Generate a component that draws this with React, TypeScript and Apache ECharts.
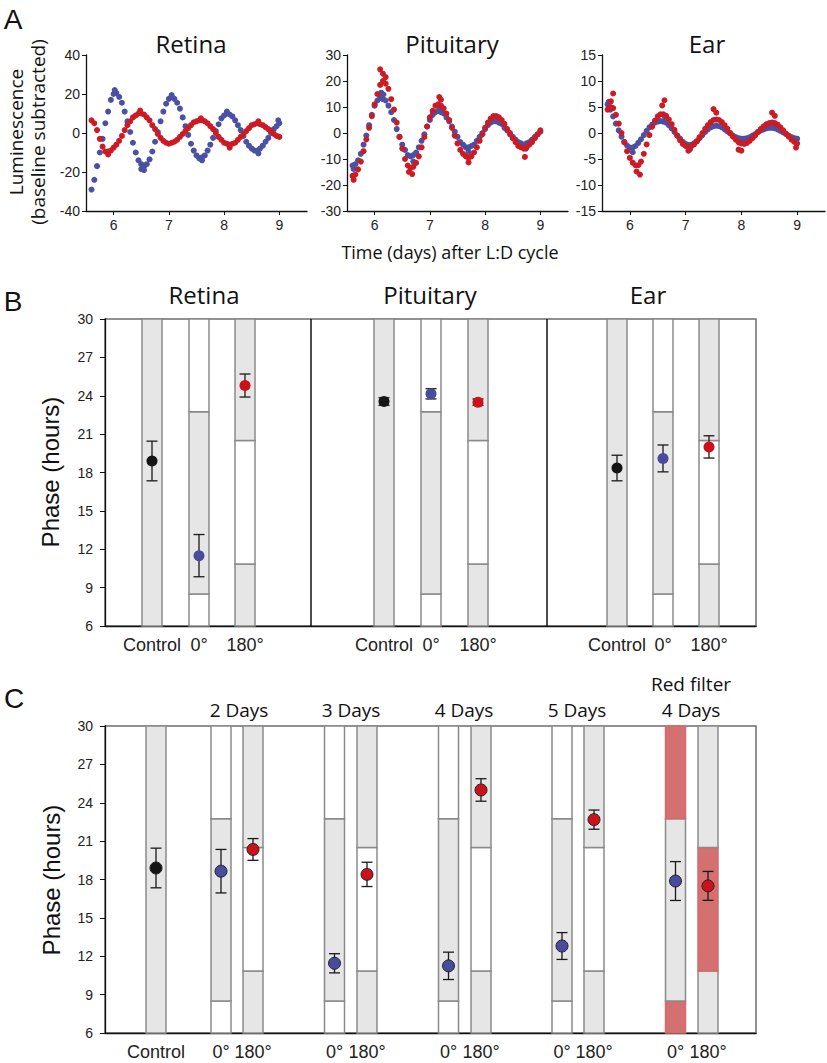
import React, { useEffect, useRef } from "react";
import * as echarts from "echarts";

// ---------- Panel A data ----------
const DAYS = [
  5.6, 5.65, 5.7, 5.75, 5.8, 5.85, 5.9, 5.95, 6.0, 6.05,
  6.1, 6.15, 6.2, 6.25, 6.3, 6.35, 6.4, 6.45, 6.5, 6.55,
  6.6, 6.65, 6.7, 6.75, 6.8, 6.85, 6.9, 6.95, 7.0, 7.05,
  7.1, 7.15, 7.2, 7.25, 7.3, 7.35, 7.4, 7.45, 7.5, 7.55,
  7.6, 7.65, 7.7, 7.75, 7.8, 7.85, 7.9, 7.95, 8.0, 8.05,
  8.1, 8.15, 8.2, 8.25, 8.3, 8.35, 8.4, 8.45, 8.5, 8.55,
  8.6, 8.65, 8.7, 8.75, 8.8, 8.85, 8.9, 8.95, 9.0,
];

const RETINA_BLUE = [
  -29, -24, -17, -10, -3, 5, 11, 17, 20, 20.5,
  18.5, 15.5, 11, 6, 0.5, -5, -10, -14, -16, -17,
  -16, -13.5, -9.5, -4.5, 0.5, 6, 11, 15, 17.5, 18.5,
  17.5, 15.5, 12.5, 8, 3.5, -1, -5.5, -9, -11.5, -13,
  -12.5, -11.5, -9, -6, -2.5, 1, 4.5, 7.5, 9, 10,
  9.5, 8.5, 6.5, 4, 1.5, -1.5, -4.5, -6.5, -8, -9,
  -9, -8, -6.5, -4.5, -2.5, 0, 2, 3.5, 5,
];
const RETINA_RED = [
  6.5, 5, 1.5, -3, -7, -9.5, -9.5, -9, -7.5, -6,
  -4, -1.5, 1.5, 4, 6, 8, 9, 10, 10, 9.5,
  8, 6.5, 4, 2, -0.5, -2.5, -4, -5, -5.5, -5,
  -4.5, -3.5, -2, -0.5, 1, 2.5, 4, 5.5, 6, 6.5,
  6.5, 6, 5, 3.5, 2, 0, -2, -3.5, -5, -5.5,
  -6, -5.5, -5, -3.5, -2, -0.5, 1, 2.5, 4, 4.5,
  5, 4.5, 4, 3, 2, 1, -0.5, -1.5, -2,
];
const PIT_BLUE = [
  -12.5, -12, -10.5, -8, -4.5, -1, 3, 7, 10.5, 12.5,
  13.5, 13, 12.5, 10.5, 8, 5, 1.5, -1.5, -4.5, -6.5,
  -8.5, -9, -8.5, -7.5, -5.5, -3, -0.5, 2.5, 5, 7,
  8, 8.5, 8, 7.5, 6, 4.5, 2.5, 0.5, -1.5, -3.5,
  -4.5, -5.5, -5.5, -5, -4.5, -3, -1.5, 0, 1.5, 3,
  4, 4.5, 4.5, 4, 3.5, 2, 1, -0.5, -1.5, -2.5,
  -3.5, -4, -4.5, -4, -3.5, -2.5, -1.5, -0.5, 0.5,
];
const PIT_RED = [
  -16.5, -16, -14, -11, -7, -2.5, 2, 6.5, 11, 15,
  18.5, 20, 19, 17, 13, 9, 4, -1.5, -6, -10,
  -12.5, -13.5, -13, -11.5, -9, -5.5, -1.5, 2.5, 6, 8.5,
  10.5, 11, 10.5, 9.5, 7.5, 5, 2, -1, -4, -6.5,
  -8, -9, -9.5, -9, -7.5, -5.5, -3, -0.5, 2, 4,
  5.5, 6.5, 6.5, 6, 5, 3.5, 1.5, 0, -2, -3.5,
  -5, -5.5, -6, -5.5, -4.5, -3.5, -2, -0.5, 1,
];
const EAR_BLUE = [
  5.5, 4.5, 3.2, 1.8, 0.5, -0.7, -1.7, -2.4, -2.8, -2.8,
  -2.5, -1.9, -1.2, -0.4, 0.4, 1.1, 1.6, 2, 2.2, 2.3,
  2.2, 2, 1.5, 0.9, 0.2, -0.5, -1.1, -1.7, -2.1, -2.3,
  -2.3, -2, -1.6, -1, -0.4, 0.2, 0.7, 1.1, 1.3, 1.4,
  1.3, 1.1, 0.7, 0.3, -0.1, -0.5, -0.8, -1, -1.1, -1.1,
  -1, -0.8, -0.5, -0.2, 0.2, 0.5, 0.7, 0.9, 1, 1,
  0.9, 0.7, 0.4, 0.1, -0.2, -0.5, -0.8, -1, -1.1,
];
const EAR_RED = [
  4.5, 5, 4.8, 3.5, 1.8, 0, -1.8, -3.5, -4.8, -5.7,
  -6.2, -6.2, -5.5, -4, -2.2, -0.4, 1.2, 2.4, 3.2, 3.6,
  3.6, 3.3, 2.6, 1.7, 0.6, -0.5, -1.4, -2.1, -2.5, -2.7,
  -2.6, -2.2, -1.6, -0.8, 0, 0.8, 1.5, 2.1, 2.5, 2.6,
  2.5, 2.1, 1.5, 0.8, 0, -0.7, -1.3, -1.8, -2, -2.1,
  -1.9, -1.5, -1, -0.4, 0.2, 0.8, 1.3, 1.7, 1.9, 2,
  1.9, 1.6, 1.1, 0.5, -0.1, -0.7, -1.3, -1.7, -2,
];
// scattered points off the main band
const RETINA_BLUE_EXTRA = [[6.02, 22], [6.55, -19], [6.5, -18.5], [7.05, 19.5], [7.6, -14], [8.05, 11], [8.62, -10.5], [8.98, 6.5]];
const RETINA_RED_EXTRA = [[6.48, 11.5], [5.9, -11], [7.58, 7.5], [8.1, -7.5], [8.62, 6]];
const PIT_BLUE_EXTRA = [[6.12, 15.5], [6.16, 14.8], [7.18, 9.8], [5.62, -13.8], [6.7, -11], [7.7, -7.2], [8.74, -6]];
const PIT_RED_EXTRA = [[6.1, 24.5], [6.15, 22.8], [6.2, 21.5], [7.17, 13.8], [7.2, 12.8], [6.68, -15.8], [6.62, -15], [7.7, -11.3], [8.72, -9.2], [5.62, -18]];
const EAR_BLUE_EXTRA = [[5.62, 6], [6.05, -3.7], [6.63, 3.1], [7.08, -3.1], [8.6, 1.6]];
const EAR_RED_EXTRA = [[5.7, 7.6], [5.66, 6.1], [6.62, 6.3], [6.58, 5.3], [6.18, -8], [6.12, -7.4], [7.5, 4.6], [7.55, 3.9], [8.55, 3.9], [8.6, 3.3], [8.0, -3.4], [7.95, -3.2], [8.98, -2.8], [7.05, -3.4]];

const A_TITLES = ["Retina", "Pituitary", "Ear"];
const A_YMIN = [-40, -30, -15];
const A_YMAX = [40, 30, 15];
const A_YSTEP = [20, 10, 5];
const A_XTICKS = [6, 7, 8, 9];

// ---------- Panel B data ----------
const B_TISSUES = ["Retina", "Pituitary", "Ear"];
const B_CONDITIONS = ["Control", "0°", "180°", "Control", "0°", "180°", "Control", "0°", "180°"];
const B_PHASE = [18.9, 11.5, 24.8, 23.55, 24.15, 23.5, 18.35, 19.1, 20.0];
const B_ERR = [1.55, 1.65, 0.9, 0.3, 0.4, 0.25, 1.0, 1.05, 0.87];

// ---------- Panel C data ----------
const C_GROUPS = ["2 Days", "3 Days", "4 Days", "5 Days", "Red filter\n4 Days"];
const C_CONDITIONS = ["Control", "0°", "180°", "0°", "180°", "0°", "180°", "0°", "180°", "0°", "180°"];
const C_PHASE = [18.9, 18.65, 20.35, 11.45, 18.4, 11.25, 25.0, 12.8, 22.68, 17.88, 17.5];
const C_ERR = [1.55, 1.7, 0.85, 0.75, 0.95, 1.07, 0.88, 1.05, 0.75, 1.52, 1.13];

// light schedules: [from, to, kind]
const SCHED_CONTROL = [[6, 30, 0]];
const SCHED_0 = [[6, 8.5, 1], [8.5, 22.75, 0], [22.75, 30, 1]];
const SCHED_180 = [[6, 10.85, 0], [10.85, 20.5, 1], [20.5, 30, 0]];
const SCHED_RED_0 = [[6, 8.5, 2], [8.5, 22.75, 0], [22.75, 30, 2]];
const SCHED_RED_180 = [[6, 10.85, 0], [10.85, 20.5, 2], [20.5, 30, 0]];

// ---------- layout constants ----------
const B_X = [47, 94, 140, 279, 326, 373, 512, 558, 604];
const B_DIVIDERS = [206, 442];
const C_X = [51, 116, 148, 229.5, 262, 343.5, 376, 457, 489, 570.5, 603];
const B_SCHED = [SCHED_CONTROL, SCHED_0, SCHED_180, SCHED_CONTROL, SCHED_0, SCHED_180, SCHED_CONTROL, SCHED_0, SCHED_180];
const C_SCHED = [SCHED_CONTROL, SCHED_0, SCHED_180, SCHED_0, SCHED_180, SCHED_0, SCHED_180, SCHED_0, SCHED_180, SCHED_RED_0, SCHED_RED_180];

const BLUE = "#4a50a2";
const RED = "#cc1b24";
const BLACK = "#151515";
const PT_BLUE = "#474c9c";
const PT_RED = "#cc111d";
const FILLS = ["#e6e6e6", "#ffffff", "#d4706f"];
const SANS = "Liberation Sans";
const MYR = "Open Sans";

const condColor = (c: string) => (c === "Control" ? BLACK : c === "0°" ? PT_BLUE : PT_RED);

const renderBar = (_p: any, api: any) => {
  const x = api.value(0), a = api.value(1), b = api.value(2), k = api.value(3);
  const p0 = api.coord([x, a]);
  const p1 = api.coord([x, b]);
  const w = 20;
  return {
    type: "rect",
    shape: { x: p0[0] - w / 2, y: p1[1], width: w, height: p0[1] - p1[1] },
    style: { fill: FILLS[k], stroke: k === 2 ? "#cf6d6c" : "#8a8a8a", lineWidth: 1.5 },
  };
};
const renderErr = (_p: any, api: any) => {
  const x = api.value(0), y = api.value(1), e = api.value(2);
  const t = api.coord([x, y + e]);
  const b = api.coord([x, y - e]);
  const cw = 5.5;
  const st = { stroke: "#1a1a1a", lineWidth: 1.3 };
  return {
    type: "group",
    children: [
      { type: "line", shape: { x1: t[0], y1: t[1], x2: b[0], y2: b[1] }, style: st },
      { type: "line", shape: { x1: t[0] - cw, y1: t[1], x2: t[0] + cw, y2: t[1] }, style: st },
      { type: "line", shape: { x1: b[0] - cw, y1: b[1], x2: b[0] + cw, y2: b[1] }, style: st },
    ],
  };
};
const renderDivider = (_p: any, api: any) => {
  const x = api.value(0);
  const a = api.coord([x, 6]);
  const b = api.coord([x, 30]);
  return { type: "line", shape: { x1: a[0], y1: a[1], x2: b[0], y2: b[1] }, style: { stroke: "#111", lineWidth: 1.5 } };
};

function barData(xs: number[], scheds: number[][][]) {
  const out: number[][] = [];
  xs.forEach((x, i) => scheds[i].forEach((s) => out.push([x, s[0], s[1], s[2]])));
  return out;
}

function buildOption() {
  const aLeft = [86, 347, 602];
  const aWidth = [221, 221, 223];
  const grids: any[] = aLeft.map((l, i) => ({ left: l, top: 55, width: aWidth[i], height: 156 }));
  grids.push({ left: 105, top: 319, width: 651, height: 307, show: true, borderColor: "#6e6e6e", borderWidth: 1.5, backgroundColor: "transparent" });
  grids.push({ left: 105, top: 726, width: 651, height: 307, show: true, borderColor: "#6e6e6e", borderWidth: 1.5, backgroundColor: "transparent" });

  const axisLine = { show: true, onZero: false, lineStyle: { color: "#111", width: 1.3 } };
  const xAxes: any[] = [0, 1, 2].map((i) => ({
    gridIndex: i, type: "value", min: 5.5, max: 9.5,
    axisLine,
    axisTick: { show: true, customValues: A_XTICKS, length: 4, lineStyle: { color: "#111" } },
    axisLabel: { customValues: A_XTICKS, color: "#222", fontSize: 14, fontFamily: SANS, margin: 7 },
    splitLine: { show: false },
  }));
  const yAxes: any[] = [0, 1, 2].map((i) => ({
    gridIndex: i, type: "value", min: A_YMIN[i], max: A_YMAX[i], interval: A_YSTEP[i],
    axisLine,
    axisTick: { show: true, length: 4, lineStyle: { color: "#111" } },
    axisLabel: { color: "#222", fontSize: 14, fontFamily: SANS, margin: 6 },
    splitLine: { show: false },
  }));
  const catFormatter = (xs: number[], labels: string[]) => (v: number) => {
    const i = xs.findIndex((p) => Math.abs(p - v) < 0.01);
    return i >= 0 ? labels[i] : "";
  };
  [[B_X, B_CONDITIONS, 3], [C_X, C_CONDITIONS, 4]].forEach(([xs, labels, gi]: any) => {
    xAxes.push({
      gridIndex: gi, type: "value", min: 0, max: 651,
      axisLine,
      axisTick: { show: false },
      axisLabel: { customValues: xs, formatter: catFormatter(xs, labels), color: "#222", fontSize: 18, fontFamily: SANS, margin: 10 },
      splitLine: { show: false },
    });
    yAxes.push({
      gridIndex: gi, type: "value", min: 6, max: 30, interval: 3,
      axisLine,
      axisTick: { show: true, length: 5, lineStyle: { color: "#111" } },
      axisLabel: { color: "#222", fontSize: 14, fontFamily: SANS, margin: 12 },
      splitLine: { show: false },
    });
  });

  const series: any[] = [];
  const aSets = [
    [RETINA_BLUE, RETINA_RED, RETINA_BLUE_EXTRA, RETINA_RED_EXTRA],
    [PIT_BLUE, PIT_RED, PIT_BLUE_EXTRA, PIT_RED_EXTRA],
    [EAR_BLUE, EAR_RED, EAR_BLUE_EXTRA, EAR_RED_EXTRA],
  ];
  aSets.forEach(([blue, red, blueX, redX]: any, i) => {
    const mk = (data: any[], color: string, z: number) => ({
      type: "scatter", xAxisIndex: i, yAxisIndex: i, data, symbolSize: 6, z,
      itemStyle: { color, opacity: 1 }, silent: true,
    });
    series.push(mk(DAYS.map((d, k) => [d, blue[k]]), BLUE, 2));
    series.push(mk(blueX, BLUE, 2));
    series.push(mk(DAYS.map((d, k) => [d, red[k]]), RED, 3));
    series.push(mk(redX, RED, 3));
  });

  const phasePanel = (gi: number, xs: number[], scheds: any, conds: string[], phase: number[], err: number[], border: boolean) => {
    series.push({
      type: "custom", xAxisIndex: gi, yAxisIndex: gi, renderItem: renderBar, silent: true, z: 1,
      encode: { x: 0, y: [1, 2] }, data: barData(xs, scheds),
    });
    series.push({
      type: "custom", xAxisIndex: gi, yAxisIndex: gi, renderItem: renderErr, silent: true, z: 3,
      encode: { x: 0, y: [1] }, data: xs.map((x, i) => [x, phase[i], err[i]]),
    });
    series.push({
      type: "scatter", xAxisIndex: gi, yAxisIndex: gi, silent: true, z: 4,
      symbolSize: border ? 12 : 11,
      data: xs.map((x, i) => ({
        value: [x, phase[i]],
        itemStyle: { color: condColor(conds[i]), opacity: 1, borderColor: border ? "#222" : condColor(conds[i]), borderWidth: border ? 1 : 0 },
      })),
    });
  };
  phasePanel(3, B_X, B_SCHED, B_CONDITIONS, B_PHASE, B_ERR, false);
  series.push({
    type: "custom", xAxisIndex: 3, yAxisIndex: 3, renderItem: renderDivider, silent: true, z: 2,
    encode: { x: 0 }, data: B_DIVIDERS.map((x) => [x]),
  });
  phasePanel(4, C_X, C_SCHED, C_CONDITIONS, C_PHASE, C_ERR, true);

  const txt = (text: string, x: number, y: number, size: number, family: string, extra: any = {}) => ({
    type: "text", x, y, silent: true, ...extra,
    style: { text, fontSize: size, fontFamily: family, fill: "#111", align: "center", verticalAlign: "middle", lineHeight: size * 1.15 },
  });
  const aTitleX = [191, 452, 707];
  const bTitleX = [204, 430, 648];
  const cTitleX = [239, 351, 464, 577, 691];
  const cTitles: any[] = [];
  C_GROUPS.forEach((t, i) => {
    const lines = t.split("\n");
    lines.forEach((ln, j) => cTitles.push(txt(ln, cTitleX[i], 710 - (lines.length - 1 - j) * 26, 19, MYR)));
  });
  const graphic: any[] = [
    txt("A", 13, 19, 28, SANS),
    txt("B", 13, 301, 28, SANS),
    txt("C", 14, 698, 28, SANS),
    ...A_TITLES.map((t, i) => txt(t, aTitleX[i], 43, 24, MYR)),
    txt("Luminescence\n(baseline subtracted)", 27, 132, 19, MYR, { rotation: Math.PI / 2 }),
    txt("Time (days) after L:D cycle", 450, 252, 18, MYR),
    ...B_TISSUES.map((t, i) => txt(t, bTitleX[i], 294, 24, MYR)),
    txt("Phase (hours)", 50, 472, 24, SANS, { rotation: Math.PI / 2 }),
    txt("Phase (hours)", 51, 880, 24, SANS, { rotation: Math.PI / 2 }),
    ...cTitles,
  ];

  return {
    animation: false,
    backgroundColor: "#ffffff",
    grid: grids,
    xAxis: xAxes,
    yAxis: yAxes,
    series,
    graphic,
  };
}

export default function App() {
  const ref = useRef<HTMLDivElement>(null);
  useEffect(() => {
    if (!ref.current) return;
    const chart = echarts.init(ref.current, undefined, { renderer: "svg" });
    chart.setOption(buildOption());
    return () => chart.dispose();
  }, []);
  return <div ref={ref} style={{ position: "absolute", left: 0, top: 0, width: 827, height: 1063 }} />;
}
